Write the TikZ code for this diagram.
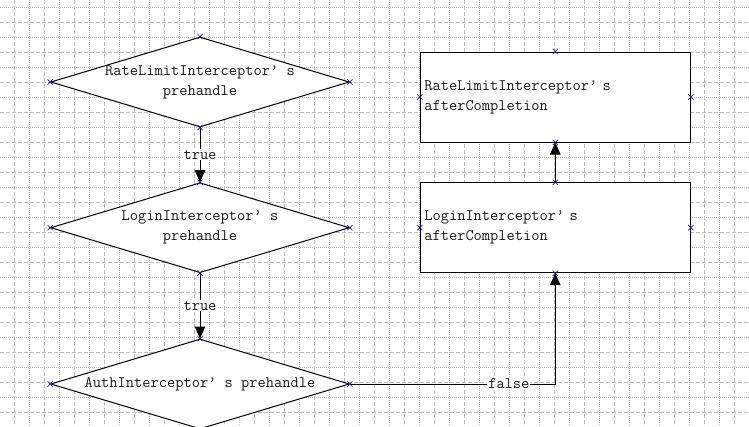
\documentclass[tikz,border=0pt]{standalone}
\usepackage{fontspec}
\usepackage{tikz}
\usetikzlibrary{shapes.geometric,shapes.misc,arrows.meta,positioning}
\definecolor{gridgray}{RGB}{190,190,190}
\definecolor{markblue}{RGB}{30,30,150}
\definecolor{textgray}{RGB}{25,25,25}
\newcommand{\diagfont}{\ttfamily\fontsize{16}{20}\selectfont}

\begin{document}
\begin{tikzpicture}[x=1pt,y=-1pt,node distance=54.7pt and 70pt]
  \tikzstyle{decision}=[diamond,draw,line width=1pt,fill=white,shape aspect=3.318,minimum width=298.6pt,minimum height=90pt,inner sep=-1pt,align=center,font=\diagfont,text=textgray]
  \tikzstyle{stepbox}=[rectangle,draw,line width=1pt,fill=white,minimum width=270pt,minimum height=90pt,text width=262pt,inner xsep=4pt,align=left,font=\diagfont,text=textgray]
  \tikzstyle{flow}=[line width=1pt,-{Triangle[length=12pt,width=10.5pt]}]
  \tikzstyle{lbl}=[fill=white,inner sep=1pt,font=\diagfont,text=textgray]
  \tikzstyle{xmark}=[cross out,draw=markblue,line width=0.7pt,minimum size=4.5pt,inner sep=0pt]
  \tikzstyle{majorline}=[gridgray,line width=0.8pt,dash pattern=on 4pt off 2pt]
  \tikzstyle{minorline}=[gridgray,line width=0.8pt,dash pattern=on 1pt off 1pt]
  \useasboundingbox (0,0) rectangle (749,426);
  \fill[white] (0,0) rectangle (749,426);
  % grid
  \foreach \k in {0,...,13} {
    \draw[minorline] (0,{7.3+30*\k}) -- (749,{7.3+30*\k});
    \draw[majorline] (0,{22.3+30*\k}) -- (749,{22.3+30*\k});
  }
  \foreach \k in {0,...,24} \draw[majorline] ({14.7+30*\k},0) -- ({14.7+30*\k},426);
  \foreach \k in {0,...,23} \draw[minorline] ({29.7+30*\k},0) -- ({29.7+30*\k},426);
  % interceptors
  \node[decision] (ratepre) at (200,82) {RateLimitInterceptor’ s\\prehandle};
  \node[decision,below=of ratepre] (loginpre) {LoginInterceptor’ s\\prehandle};
  \node[decision,below=65.3pt of loginpre] (authpre) {AuthInterceptor’ s prehandle};
  \node[stepbox,right=of loginpre] (loginafter) {LoginInterceptor’ s\\afterCompletion};
  \node[stepbox,above=39.7pt of loginafter] (rateafter) {RateLimitInterceptor’ s\\afterCompletion};
  \draw[flow] (ratepre) -- node[lbl] {true} (loginpre);
  \draw[flow] (loginpre) -- node[lbl] {true} (authpre);
  \draw[flow] (authpre.east) -| node[lbl,pos=0.387] {false} (loginafter.south);
  \draw[flow] (loginafter) -- (rateafter);
  % connection points
  \foreach \n in {ratepre,loginpre,authpre,rateafter,loginafter}
    \foreach \a in {north,south,east,west}
      \node[xmark] (\n-\a) at (\n.\a) {};
\end{tikzpicture}
\end{document}
